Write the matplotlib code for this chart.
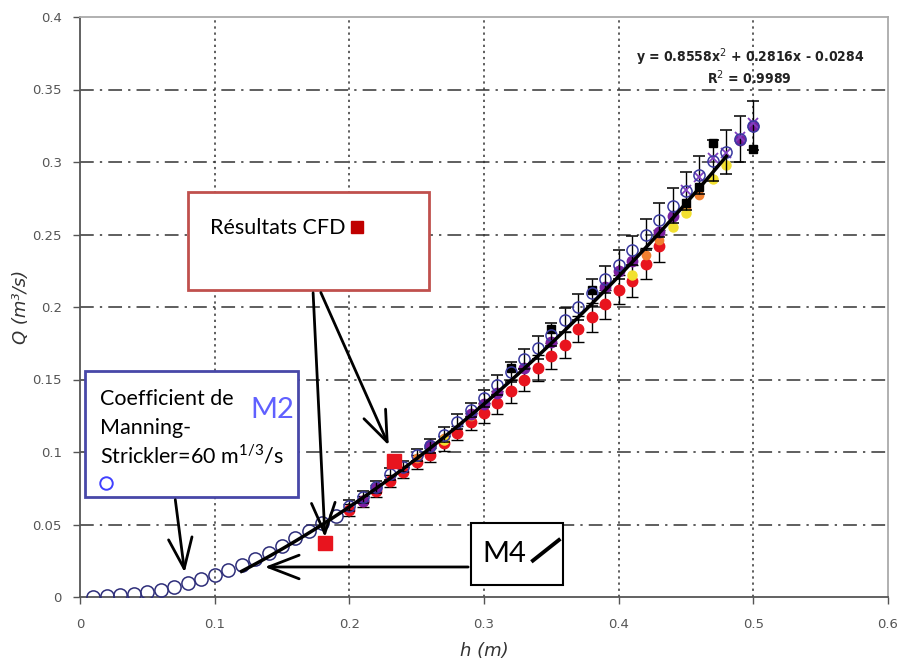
import numpy as np
import matplotlib
matplotlib.use("Agg")
import matplotlib.pyplot as plt
from matplotlib.patches import Rectangle

# ---- data ----
h_manning = [0.01, 0.02, 0.03, 0.04, 0.05, 0.06, 0.07, 0.08, 0.09, 0.10,
             0.11, 0.12, 0.13, 0.14, 0.15, 0.16, 0.17, 0.18, 0.19]
q_manning = [0.0002, 0.0007, 0.0014, 0.0021, 0.0034, 0.0050, 0.0071, 0.0099, 0.0122, 0.0150,
             0.0186, 0.0219, 0.0264, 0.0303, 0.0354, 0.0405, 0.0457, 0.0512, 0.0559]

h_exp = [0.20, 0.21, 0.22, 0.23, 0.24, 0.25, 0.26, 0.27, 0.28, 0.29, 0.30,
         0.31, 0.32, 0.33, 0.34, 0.35, 0.36, 0.37, 0.38, 0.39, 0.40,
         0.41, 0.42, 0.43, 0.44, 0.45, 0.46, 0.47, 0.48, 0.49, 0.50]
q_open = [0.063, 0.069, 0.076, 0.085, 0.090, 0.098, 0.104, 0.112, 0.121, 0.129, 0.137,
          0.146, 0.155, 0.164, 0.172, 0.181, 0.191, 0.200, 0.210, 0.219, 0.229,
          0.239, 0.250, 0.260, 0.270, 0.280, 0.291, 0.301, 0.307, 0.316, 0.325]
err_open = [0.004, 0.004, 0.004, 0.004, 0.004, 0.004, 0.005, 0.005, 0.005, 0.005, 0.006,
            0.007, 0.007, 0.007, 0.008, 0.008, 0.008, 0.009, 0.009, 0.009, 0.010,
            0.010, 0.011, 0.012, 0.012, 0.013, 0.013, 0.014, 0.015, 0.016, 0.017]

h_red = [0.20, 0.21, 0.22, 0.23, 0.24, 0.25, 0.26, 0.27, 0.28, 0.29, 0.30, 0.31,
         0.32, 0.33, 0.34, 0.35, 0.36, 0.37, 0.38, 0.39, 0.40, 0.41, 0.42, 0.43]
q_red = [0.060, 0.066, 0.073, 0.080, 0.086, 0.093, 0.098, 0.106, 0.113, 0.121, 0.127, 0.134,
         0.142, 0.150, 0.158, 0.166, 0.174, 0.185, 0.193, 0.202, 0.212, 0.218, 0.230, 0.242]
err_red = [0.004, 0.004, 0.004, 0.004, 0.004, 0.005, 0.005, 0.005, 0.005, 0.006, 0.007, 0.008,
           0.008, 0.008, 0.009, 0.009, 0.009, 0.009, 0.010, 0.010, 0.010, 0.011, 0.011, 0.011]

h_purple = [0.21, 0.22, 0.26, 0.29, 0.30, 0.31, 0.33, 0.35, 0.39, 0.40, 0.41, 0.43, 0.44, 0.49, 0.50]
q_purple = [0.066, 0.075, 0.105, 0.126, 0.133, 0.141, 0.158, 0.176, 0.214, 0.225, 0.232, 0.252, 0.263, 0.315, 0.325]

h_black = [0.32, 0.35, 0.38, 0.45, 0.46, 0.47, 0.50]
q_black = [0.158, 0.185, 0.212, 0.272, 0.283, 0.313, 0.309]

h_yellow = [0.27, 0.41, 0.44, 0.45, 0.47, 0.48]
q_yellow = [0.108, 0.222, 0.255, 0.265, 0.288, 0.298]

h_orange = [0.25, 0.27, 0.29, 0.42, 0.43, 0.45, 0.46]
q_orange = [0.096, 0.110, 0.125, 0.236, 0.246, 0.268, 0.277]

h_cross = [0.45, 0.46, 0.47, 0.48, 0.49, 0.50]
q_cross = [0.281, 0.290, 0.303, 0.306, 0.317, 0.327]

h_cfd = [0.182, 0.233]
q_cfd = [0.037, 0.094]

trend_coef = [0.8558, 0.2816, -0.0284]
trend_range = (0.12, 0.48)

x_ticks = [0, 0.1, 0.2, 0.3, 0.4, 0.5, 0.6]
y_ticks = [0, 0.05, 0.1, 0.15, 0.2, 0.25, 0.3, 0.35, 0.4]

# ---- figure ----
fig = plt.figure(figsize=(8.98, 6.63), dpi=100)
ax = fig.add_axes([80 / 898, 66 / 663, 808 / 898, 580 / 663])
ax.set_xlim(0, 0.6)
ax.set_ylim(0, 0.4)

for y in y_ticks[1:-1]:
    ax.axhline(y, color="#333333", lw=1.1, ls=(0, (9, 4, 1.5, 4)), zorder=0)
for x in x_ticks[1:-1]:
    ax.axvline(x, color="#333333", lw=1.1, ls=(0, (1.5, 2.5)), zorder=0)

# Manning circles
ax.plot(h_manning, q_manning, "o", mfc="none", mec="#2e2e7a", ms=9.5, mew=1.1, zorder=3)

# experimental series
ax.errorbar(h_red, q_red, yerr=err_red, fmt="o", color="#e8141e", ms=7.5,
             ecolor="black", elinewidth=1, capsize=4, capthick=1, zorder=3)
ax.plot(h_orange, q_orange, "o", color="#f08030", ms=6, zorder=4)
ax.plot(h_yellow, q_yellow, "o", color="#f2e030", ms=6.5, zorder=4)
ax.plot(h_black, q_black, "s", color="black", ms=6, zorder=4)
ax.plot(h_purple, q_purple, "o", color="#7a1fa0", ms=7.5, zorder=4)
ax.errorbar(h_exp, q_open, yerr=err_open, fmt="o", mfc="none", mec="#3a3aa0", ms=8, mew=1.1,
            ecolor="black", elinewidth=1, capsize=4, capthick=1, zorder=5)
ax.plot(h_cross, q_cross, "x", color="#8040c0", ms=7, mew=1.3, zorder=5)

# polynomial trend line
xt = np.linspace(trend_range[0], trend_range[1], 100)
ax.plot(xt, np.polyval(trend_coef, xt), color="black", lw=2.5, zorder=6)

# CFD results
ax.plot(h_cfd, q_cfd, "s", color="#e8141e", ms=10, zorder=7)

# axes styling
ax.set_xticks(x_ticks)
ax.set_yticks(y_ticks)
ax.set_xticklabels(["0", "0.1", "0.2", "0.3", "0.4", "0.5", "0.6"])
ax.set_yticklabels(["0", "0.05", "0.1", "0.15", "0.2", "0.25", "0.3", "0.35", "0.4"])
ax.tick_params(colors="#555555", labelsize=9.5, length=5, width=1, pad=8)
ax.tick_params(axis="x", pad=10)
for s in ["left", "bottom"]:
    ax.spines[s].set_color("#555555")
    ax.spines[s].set_linewidth(1.3)
for s in ["top", "right"]:
    ax.spines[s].set_color("#aaaaaa")
    ax.spines[s].set_linewidth(1.3)

ax.set_xlabel("h (m)", fontsize=13, fontstyle="italic", color="#333333", labelpad=8)
ax.set_ylabel("Q (m³/s)", fontsize=13, fontstyle="italic", color="#333333", labelpad=2)

# equation
eq_font = dict(fontsize=10, fontweight="bold", color="#222222", fontstretch="condensed",
               family=["DejaVu Sans"])
ax.text(0.4974, 0.3724, "y = 0.8558x$^2$ + 0.2816x - 0.0284", ha="center", va="center", **eq_font)
ax.text(0.4974, 0.3580, "R$^2$ = 0.9989", ha="center", va="center", **eq_font)

box_font = ["Lato", "DejaVu Sans"]
arrow_kw = dict(arrowstyle="->,head_length=2.2,head_width=0.85", color="black", lw=2)

# CFD box
ax.add_patch(Rectangle((0.0802, 0.2117), 0.1789, 0.0676, facecolor="white",
                       edgecolor="#c0504d", lw=2, zorder=8))
ax.text(0.0965, 0.2545, "Résultats CFD", ha="left", va="center", fontsize=15.5,
        family=box_font, zorder=9)
ax.plot([0.2056], [0.2552], "s", color="#c00000", ms=8, zorder=9)
ax.annotate("", xy=(0.182, 0.0393), xytext=(0.173, 0.2117), arrowprops=arrow_kw, zorder=9)
ax.annotate("", xy=(0.2301, 0.1028), xytext=(0.178, 0.2117), arrowprops=arrow_kw, zorder=9)

# Manning box
ax.add_patch(Rectangle((0.0037, 0.0690), 0.1581, 0.0869, facecolor="white",
                       edgecolor="#4848a8", lw=2, zorder=8))
ax.text(0.0148, 0.1366, "Coefficient de", ha="left", va="center", fontsize=15.5,
        family=box_font, zorder=9)
ax.text(0.0148, 0.1166, "Manning-", ha="left", va="center", fontsize=15.5,
        family=box_font, zorder=9)
ax.text(0.0148, 0.0972, r"Strickler=60 m$^{\mathregular{1/3}}$/s", ha="left", va="center",
        fontsize=15.5, family=box_font, zorder=9)
ax.plot([0.0193], [0.0786], "o", mfc="none", mec="#4040ff", ms=9, mew=1.4, zorder=9)
ax.text(0.1430, 0.1290, "M2", ha="center", va="center", fontsize=21, color="#6060ff",
        family=box_font, zorder=9)
ax.annotate("", xy=(0.078, 0.0150), xytext=(0.0705, 0.069), arrowprops=arrow_kw, zorder=9)

# M4 box
ax.add_patch(Rectangle((0.2903, 0.0083), 0.0683, 0.0427, facecolor="white",
                       edgecolor="black", lw=1.5, zorder=8))
ax.text(0.2985, 0.0300, "M4", ha="left", va="center", fontsize=21,
        family=box_font, zorder=9)
ax.plot([0.3363, 0.3556], [0.0251, 0.0393], color="black", lw=2.8, zorder=9)
ax.annotate("", xy=(0.1351, 0.0207), xytext=(0.2903, 0.0207), arrowprops=arrow_kw, zorder=9)

fig.savefig("out.png", dpi=100)
